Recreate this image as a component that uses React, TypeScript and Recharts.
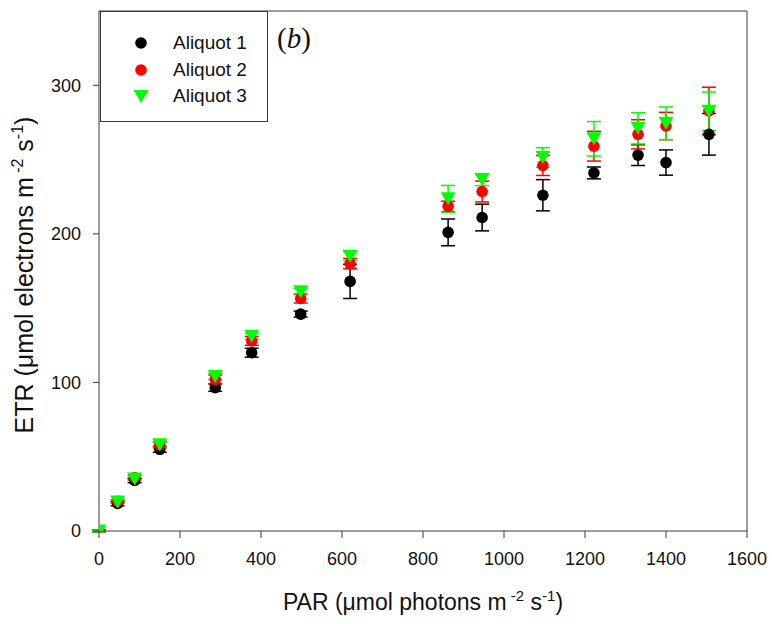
import React from "react";
import {
  ScatterChart,
  Scatter,
  XAxis,
  YAxis,
  ErrorBar,
  ReferenceLine,
  Legend,
  Label,
} from "recharts";

const PAR = [0, 46, 88, 150, 287, 377, 498, 620, 862, 946, 1096, 1222, 1331, 1400, 1506];

const ETR_1 = [0, 18.5, 34, 55, 96.5, 120, 146, 168, 201, 211, 226, 241, 253, 248, 267];
const ERR_1 = [0.5, 1.5, 1.5, 2, 2.5, 3, 2, 11.5, 9, 9, 10.5, 4, 7, 8.5, 14];

const ETR_2 = [0, 20, 36, 58, 102, 128, 156.5, 180, 218.5, 228.5, 246, 259, 267, 272.6, 282.7];
const ERR_2 = [0.5, 1, 1.5, 2, 3, 3, 3, 3.5, 3.5, 7, 6.7, 10, 9.8, 9.2, 16];

const ETR_3 = [0, 19.5, 35, 58, 104, 131, 161, 185, 223.6, 236.5, 251.4, 264, 271, 274.4, 282.5];
const ERR_3 = [0.5, 1, 1, 1.5, 2, 2, 2, 3, 9, 4, 6.6, 11.6, 10.5, 11, 13];

const X_TICKS = [0, 200, 400, 600, 800, 1000, 1200, 1400, 1600];
const Y_TICKS = [0, 100, 200, 300];

const SERIES_NAMES = ["Aliquot 1", "Aliquot 2", "Aliquot 3"];
const SERIES_COLORS = ["#000000", "#ff0000", "#00ff00"];

const toPoints = (ys: number[], errs: number[]) =>
  PAR.map((x, i) => ({ x, y: ys[i], err: errs[i] }));

const AXIS = "#3a3a3a";
const FONT = "'Liberation Sans', Arial, sans-serif";

const Dot = (props: any) => {
  const { cx, cy, fill } = props;
  if (cx == null || cy == null) return null;
  return <circle cx={cx} cy={cy} r={5.8} fill={fill} />;
};

const Tri = (props: any) => {
  const { cx, cy, fill } = props;
  if (cx == null || cy == null) return null;
  const w = 7.5;
  const h = 6.5;
  return (
    <polygon
      points={`${cx - w},${cy - h} ${cx + w},${cy - h} ${cx},${cy + h}`}
      fill={fill}
    />
  );
};

const LegendBox = () => (
  <div
    style={{
      width: 168,
      height: 111,
      border: `1px solid ${AXIS}`,
      background: "#fff",
      boxSizing: "border-box",
      fontFamily: FONT,
      fontSize: 19,
      paddingTop: 18,
    }}
  >
    {SERIES_NAMES.map((name, i) => (
      <div key={name} style={{ display: "flex", alignItems: "center", height: 26.5 }}>
        <svg width={72} height={20} style={{ flex: "none" }}>
          {i < 2 ? (
            <circle cx={40} cy={10} r={5.8} fill={SERIES_COLORS[i]} />
          ) : (
            <polygon points="32.5,4 47.5,4 40,17" fill={SERIES_COLORS[i]} />
          )}
        </svg>
        <span style={{ color: "#111" }}>{name}</span>
      </div>
    ))}
  </div>
);

const XTitle = (props: any) => {
  const vb = props.viewBox || {};
  const cx = vb.x + vb.width / 2;
  const y = vb.y + 79;
  return (
    <text x={cx} y={y} textAnchor="middle" fontFamily={FONT} fontSize={23} fill="#111">
      <tspan>PAR (μmol photons m</tspan>
      <tspan dy={-9} fontSize={15}> -2</tspan>
      <tspan dy={9}> s</tspan>
      <tspan dy={-9} fontSize={15}>-1</tspan>
      <tspan dy={9}>)</tspan>
    </text>
  );
};

const YTitle = (props: any) => {
  const vb = props.viewBox || {};
  const x = 33;
  const cy = vb.y + vb.height / 2 + 4;
  return (
    <text
      x={x}
      y={cy}
      transform={`rotate(-90 ${x} ${cy})`}
      textAnchor="middle"
      fontFamily={FONT}
      fontSize={25}
      fill="#111"
    >
      <tspan>ETR (μmol electrons m</tspan>
      <tspan dy={-10} fontSize={16}> -2</tspan>
      <tspan dy={10}> s</tspan>
      <tspan dy={-10} fontSize={16}>-1</tspan>
      <tspan dy={10}>)</tspan>
    </text>
  );
};

export default function App() {
  const data = [toPoints(ETR_1, ERR_1), toPoints(ETR_2, ERR_2), toPoints(ETR_3, ERR_3)];
  return (
    <div style={{ position: "absolute", left: 0, top: 0, width: 772, height: 624, background: "#fff" }}>
      <ScatterChart width={772} height={624} margin={{ top: 11, right: 25, bottom: 0, left: 0 }}>
        <XAxis
          type="number"
          dataKey="x"
          domain={[0, 1600]}
          ticks={X_TICKS}
          height={93}
          tickSize={7}
          tickMargin={14}
          stroke={AXIS}
          tick={{ fill: "#111", fontSize: 18, fontFamily: FONT }}
          allowDataOverflow
        >
          <Label content={<XTitle />} />
        </XAxis>
        <YAxis
          type="number"
          dataKey="y"
          domain={[0, 350]}
          ticks={Y_TICKS}
          width={99}
          tickSize={6}
          tickMargin={12}
          stroke={AXIS}
          tick={{ fill: "#111", fontSize: 18, fontFamily: FONT }}
          allowDataOverflow
        >
          <Label content={<YTitle />} />
        </YAxis>
        <ReferenceLine x={1600} stroke={AXIS} strokeWidth={1} />
        <ReferenceLine y={350} stroke={AXIS} strokeWidth={1} />
        {data.map((pts, i) => (
          <Scatter
            key={SERIES_NAMES[i]}
            name={SERIES_NAMES[i]}
            data={pts}
            fill={SERIES_COLORS[i]}
            shape={i < 2 ? <Dot /> : <Tri />}
            isAnimationActive={false}
          >
            <ErrorBar
              dataKey="err"
              direction="y"
              width={7}
              stroke={SERIES_COLORS[i]}
              strokeWidth={1.5}
              isAnimationActive={false}
            />
          </Scatter>
        ))}
        <Legend
          layout="vertical"
          align="center"
          verticalAlign="middle"
          content={<LegendBox />}
          wrapperStyle={{ position: "absolute", left: 100, top: 11, width: 168, height: 111 }}
        />
      </ScatterChart>
      <span
        style={{
          position: "absolute",
          left: 277,
          top: 22,
          fontFamily: "'Liberation Serif', 'Times New Roman', serif",
          fontSize: 29,
          color: "#111",
        }}
      >
        (<i>b</i>)
      </span>
    </div>
  );
}
